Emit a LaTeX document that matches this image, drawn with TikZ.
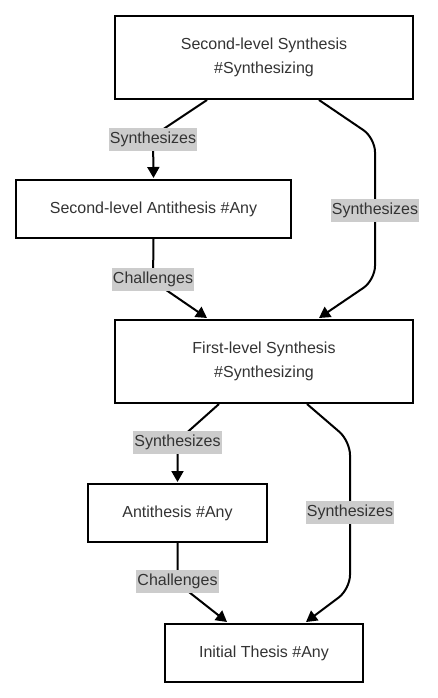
\documentclass[tikz,border=0pt]{standalone}
\usepackage{fontspec}
\setmainfont{Liberation Sans}
\usetikzlibrary{arrows.meta}
\definecolor{txt}{HTML}{333333}
\definecolor{labfill}{HTML}{CCCCCC}
\tikzset{
  box/.style={draw=black, line width=2pt, fill=white, text=txt, font=\fontsize{16}{24}\selectfont, align=center, inner sep=0pt},
  lab/.style={fill=labfill, text=txt, font=\fontsize{16}{19}\selectfont, inner xsep=1pt, inner ysep=3.5pt, text height=12pt, text depth=4pt},
  edge/.style={draw=black, line width=2pt, rounded corners=14pt, -{Triangle[length=11pt,width=12pt]}}
}
\begin{document}
\begin{tikzpicture}[x=1pt,y=-1pt]
\useasboundingbox (0,0) rectangle (437,698);
\node[box, minimum width=298pt, minimum height=83pt] (A) at (264,57.5) {Second-level Synthesis\\\#Synthesizing};
\node[box, minimum width=275pt, minimum height=58pt] (B) at (153.5,209) {Second-level Antithesis \#Any};
\node[box, minimum width=298pt, minimum height=83pt] (C) at (264,361.5) {First-level Synthesis\\\#Synthesizing};
\node[box, minimum width=179pt, minimum height=58pt] (D) at (177.5,513) {Antithesis \#Any};
\node[box, minimum width=198pt, minimum height=58pt] (E) at (264,653) {Initial Thesis \#Any};

\draw[edge] ([xshift=93pt]A.south west) -- (153,136) -- ([yshift=1pt]B.north);
\draw[edge] ([xshift=205pt]A.south west) -- (375,138) -- (375,280) -- ([xshift=205pt,yshift=1pt]C.north west);
\draw[edge] (B.south) -- (153,281) -- ([xshift=93pt,yshift=1pt]C.north west);
\draw[edge] ([xshift=105pt]C.south west) -- (177.5,441) -- ([yshift=1pt]D.north);
\draw[edge] ([xshift=193pt]C.south west) -- (350,441) -- (350,589) -- ([xshift=142pt,yshift=1pt]E.north west);
\draw[edge] (D.south) -- (177.5,583) -- ([xshift=63pt,yshift=1pt]E.north west);

\node[lab] (l1) at (153,139) {Synthesizes};
\node[lab] (l2) at (375,210) {Synthesizes};
\node[lab] (l3) at (153,279) {Challenges};
\node[lab] (l4) at (177.5,442) {Synthesizes};
\node[lab] (l5) at (350,512) {Synthesizes};
\node[lab] (l6) at (177.5,581) {Challenges};
\end{tikzpicture}
\end{document}
